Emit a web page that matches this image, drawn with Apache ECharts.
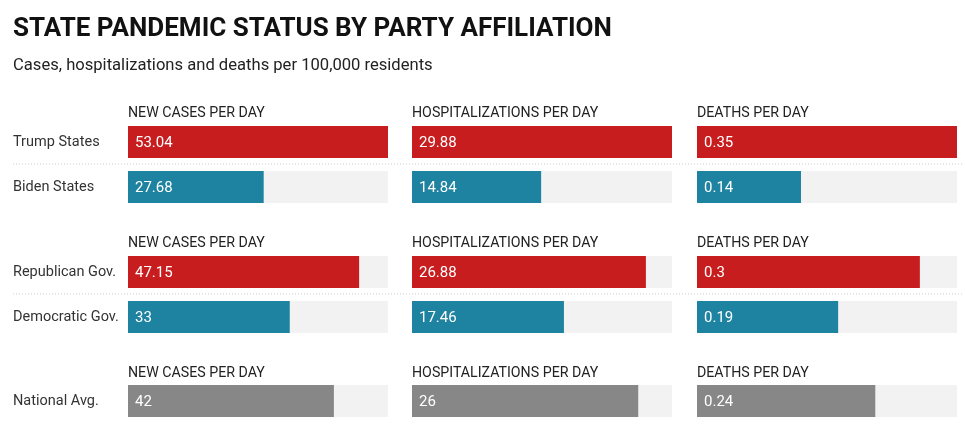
<!DOCTYPE html>
<html>
<head>
<meta charset="utf-8">
<script src="https://cdn.jsdelivr.net/npm/echarts@6/dist/echarts.min.js"></script>
<style>
html,body{margin:0;padding:0;background:#fff;}
#chart{width:965px;height:443px;}
</style>
</head>
<body>
<div id="chart"></div>
<script>
const titleText = 'STATE PANDEMIC STATUS BY PARTY AFFILIATION';
const subtitleText = 'Cases, hospitalizations and deaths per 100,000 residents';
const rows = ['Trump States', 'Biden States', 'Republican Gov.', 'Democratic Gov.', 'National Avg.'];
const metrics = ['NEW CASES PER DAY', 'HOSPITALIZATIONS PER DAY', 'DEATHS PER DAY'];
const newCases = [53.04, 27.68, 47.15, 33, 42];
const hospitalizations = [29.88, 14.84, 26.88, 17.46, 26];
const deaths = [0.35, 0.14, 0.3, 0.19, 0.24];
const rowColors = ['#c81d1e', '#1e82a1', '#c81d1e', '#1e82a1', '#878787'];

const columns = [newCases, hospitalizations, deaths];
const FONT = 'Roboto, "Noto Sans", sans-serif';
const colLeft = [128, 412, 697];
const colWidth = 260;
const rowTop = [126, 171, 256, 301, 385];
const barH = 32;
const headerY = [113.5, 243, 373];
const sepY = [164, 294];

const grids = [], xAxes = [], yAxes = [], series = [];
let idx = 0;
columns.forEach((vals, c) => {
  const maxV = Math.max.apply(null, vals);
  rows.forEach((name, r) => {
    grids.push({left: colLeft[c], top: rowTop[r], width: colWidth, height: barH, containLabel: false});
    xAxes.push({type: 'value', gridIndex: idx, min: 0, max: maxV, show: false});
    yAxes.push({
      type: 'category', gridIndex: idx, data: [name],
      axisLine: {show: false}, axisTick: {show: false}, splitLine: {show: false},
      axisLabel: {show: c === 0, align: 'left', margin: 115, color: '#333', fontSize: 14.5, fontFamily: FONT, padding: [8, 0, 0, 0]}
    });
    series.push({
      type: 'bar', xAxisIndex: idx, yAxisIndex: idx, barWidth: barH,
      data: [vals[r]],
      itemStyle: {color: rowColors[r]},
      showBackground: true,
      backgroundStyle: {color: '#f2f2f2'},
      label: {show: true, position: 'insideLeft', distance: 7, offset: [0, 1.5], color: '#fff', fontSize: 15, fontFamily: FONT},
      silent: true, animation: false
    });
    idx++;
  });
});

const graphics = [
  {type: 'text', left: 13, top: 16, style: {text: titleText, fontSize: 26, fontWeight: 'bold', fill: '#111', fontFamily: FONT}},
  {type: 'text', left: 13, top: 57, style: {text: subtitleText, fontSize: 16.6, fill: '#222', fontFamily: FONT}}
];
headerY.forEach(y => {
  metrics.forEach((m, c) => {
    graphics.push({type: 'text', x: colLeft[c], y: y, style: {text: m, fontSize: 14.2, fill: '#222', fontFamily: FONT, textVerticalAlign: 'middle', verticalAlign: 'middle'}});
  });
});
sepY.forEach(y => {
  graphics.push({type: 'line', shape: {x1: 13, y1: y, x2: 962, y2: y}, style: {stroke: '#cfcfcf', lineWidth: 1, lineDash: [1, 2]}});
});

const chart = echarts.init(document.getElementById('chart'), null, {renderer: 'canvas'});
chart.setOption({
  animation: false,
  grid: grids,
  xAxis: xAxes,
  yAxis: yAxes,
  series: series,
  graphic: graphics
});
</script>
</body>
</html>
